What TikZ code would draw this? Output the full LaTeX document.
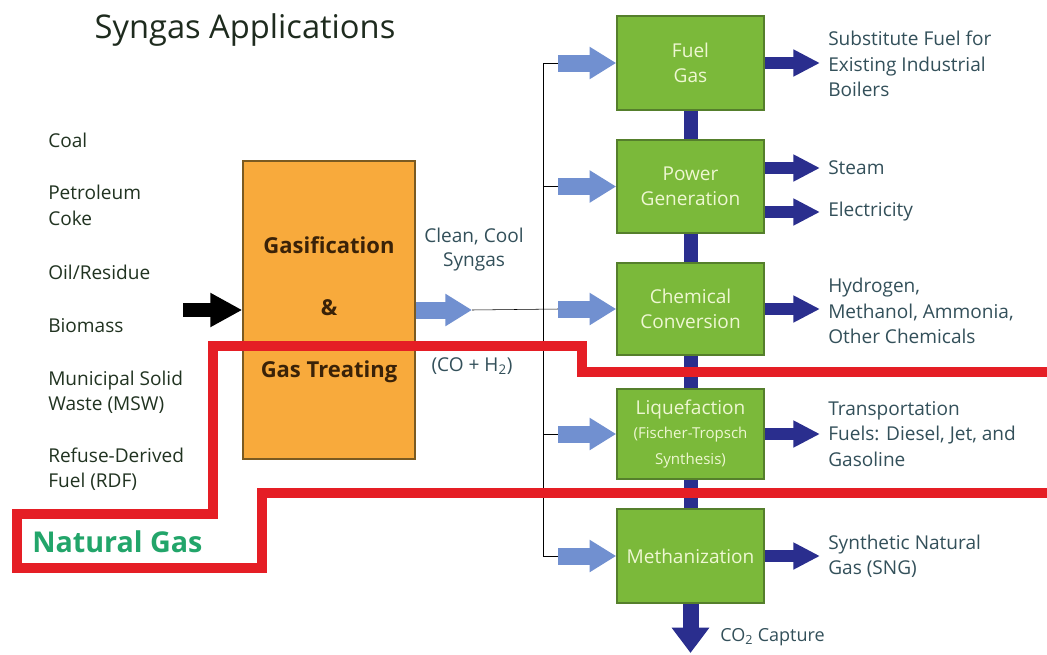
\documentclass[tikz,border=0pt]{standalone}
\usepackage{fontspec}
\setmainfont{Open Sans}
\usetikzlibrary{arrows.meta}
\definecolor{gfill}{HTML}{7BB93A}
\definecolor{gdraw}{HTML}{557F2C}
\definecolor{gtext}{HTML}{EEF7D2}
\definecolor{ofill}{HTML}{F8AA3C}
\definecolor{odraw}{HTML}{7A5A22}
\definecolor{otext}{HTML}{3A2208}
\definecolor{dblue}{HTML}{2A2E8E}
\definecolor{lblue}{HTML}{7190D0}
\definecolor{redline}{HTML}{E51E25}
\definecolor{ngas}{HTML}{22A56A}
\definecolor{ltext}{HTML}{213321}
\definecolor{rtext}{HTML}{33505A}
\definecolor{ttext}{HTML}{1E2B1E}
\definecolor{thin}{HTML}{4F6B3A}
\tikzset{
  lefttxt/.style={anchor=west, inner sep=0pt, align=left, text=ltext, font=\fontsize{14.3}{19}\selectfont},
  righttxt/.style={anchor=west, inner sep=0pt, align=left, text=rtext, font=\fontsize{14.3}{19}\selectfont},
  midtxt/.style={inner sep=0pt, align=center, text=rtext, font=\fontsize{14.3}{18}\selectfont},
  greenbox/.style={draw=gdraw, line width=1.2pt, fill=gfill, minimum width=110.25pt, text=gtext, align=center, inner sep=0pt, font=\fontsize{14.3}{19}\selectfont},
  orangebox/.style={draw=odraw, line width=1pt, fill=ofill, minimum width=129pt, minimum height=223.5pt, text=otext, align=center, font=\bfseries\fontsize{16.5}{46.5}\selectfont},
  blackarrow/.style={line width=10.5pt, black, -{Triangle[length=24pt,width=24pt]}},
  lbluearrow/.style={line width=12.75pt, lblue, -{Triangle[length=20pt,width=23pt]}},
  dbluearrow/.style={line width=9pt, dblue, shorten >=6pt, -{Triangle[length=20pt,width=19pt]}},
  dbluebar/.style={line width=10.5pt, dblue},
  thinline/.style={line width=1.1pt, thin},
  redbound/.style={line width=7.5pt, redline, miter limit=10},
}
\begin{document}
\begin{tikzpicture}[x=0.75pt,y=-0.75pt]
\useasboundingbox (0,0) rectangle (1047,654);
\fill[white] (0,0) rectangle (1047,654);

% title
\node[text=ttext, inner sep=0pt, font=\fontsize{24.5}{28}\selectfont] (title) at (245,30) {Syngas Applications};

% feedstocks
\node[lefttxt] (coal) at (48,140) {Coal};
\node[lefttxt] (petcoke) at (48,205.5) {Petroleum\\Coke};
\node[lefttxt] (oil) at (48,272) {Oil/Residue};
\node[lefttxt] (biomass) at (48,326) {Biomass};
\node[lefttxt] (msw) at (48,392) {Municipal Solid\\Waste (MSW)};
\node[lefttxt] (rdf) at (48,469) {Refuse-Derived\\Fuel (RDF)};

% gasification box
\node[orangebox] (gasif) at (329,310) {Gasification\\\&\\Gas Treating};
\coordinate (feedin) at (183,310);
\draw[blackarrow] (feedin) -- (gasif.west);

% syngas
\node[midtxt] (clean) at (474,250) {Clean, Cool\\Syngas};
\node[midtxt] (coh) at (472,366) {(CO + H\textsubscript{2})};
\coordinate (syntip) at (472,310);
\draw[lbluearrow] (gasif.east) -- (syntip);

% green boxes
\node[greenbox, minimum height=70.5pt] (fuel) at (690.5,63) {Fuel\\Gas};
\node[greenbox, minimum height=69.75pt] (power) at (690.5,186.5) {Power\\Generation};
\node[greenbox, minimum height=69pt] (chem) at (690.5,309) {Chemical\\Conversion};
\node[greenbox, minimum height=67.5pt] (liq) at (690.5,434) {Liquefaction\\[-1pt]{\fontsize{11.3}{17}\selectfont(Fischer-Tropsch}\\{\fontsize{11.3}{17}\selectfont Synthesis)}};
\node[greenbox, minimum height=70.5pt] (meth) at (690.5,556) {Methanization};

% distribution tree
\coordinate (trunktop) at (543,63);
\coordinate (trunkbot) at (543,556);
\coordinate (bfuel) at (558,63);
\coordinate (bpower) at (558,186.5);
\coordinate (bchem) at (558,309);
\coordinate (bliq) at (558,434);
\coordinate (bmeth) at (558,556);
\draw[thinline] (trunktop) -- (trunkbot);
\draw[thinline] (syntip) -- (bchem);
\draw[thinline] (trunktop) -- (bfuel);
\draw[thinline] (543,186.5) -- (bpower);
\draw[thinline] (543,434) -- (bliq);
\draw[thinline] (trunkbot) -- (bmeth);
\draw[lbluearrow] (bfuel) -- (fuel.west);
\draw[lbluearrow] (bpower) -- (power.west);
\draw[lbluearrow] (bchem) -- (chem.west);
\draw[lbluearrow] (bliq) -- (liq.west);
\draw[lbluearrow] (bmeth) -- (meth.west);

% vertical connectors
\draw[dbluebar] (fuel.south) -- (power.north);
\draw[dbluebar] (power.south) -- (chem.north);
\draw[dbluebar] (chem.south) -- (liq.north);
\draw[dbluebar] (liq.south) -- (meth.north);
\coordinate (co2tip) at (690.5,653);
\draw[line width=12pt, dblue, -{Triangle[length=19pt,width=27pt]}] (meth.south) -- (co2tip);
\node[righttxt, font=\fontsize{13.5}{16}\selectfont] (co2) at (720,637) {CO\textsubscript{2} Capture};

% outputs
\node[righttxt] (subst) at (828,64) {Substitute Fuel for\\Existing Industrial\\Boilers};
\node[righttxt] (steam) at (828,168) {Steam};
\node[righttxt] (elec) at (828,212) {Electricity};
\node[righttxt] (chems) at (828,311) {Hydrogen,\\Methanol, Ammonia,\\Other Chemicals};
\node[righttxt] (transp) at (828,434) {Transportation\\Fuels: Diesel, Jet, and\\Gasoline};
\node[righttxt] (sng) at (828,556) {Synthetic Natural\\Gas (SNG)};

\draw[dbluearrow] (fuel.east) -- (fuel.east -| subst.west);
\draw[dbluearrow] (power.east |- steam) -- (steam.west);
\draw[dbluearrow] (power.east |- elec) -- (elec.west);
\draw[dbluearrow] (chem.east) -- (chem.east -| chems.west);
\draw[dbluearrow] (liq.east) -- (transp.west);
\draw[dbluearrow] (meth.east) -- (sng.west);

% natural gas boundary
\node[text=ngas, inner sep=0pt, anchor=west, font=\bfseries\fontsize{21.5}{24}\selectfont] (natgas) at (32,542) {Natural Gas};
\draw[redbound] (1052,372) -- (582,372) -- (582,346) -- (213,346) -- (213,514) -- (17,514) -- (17,568) -- (262,568) -- (262,493) -- (1052,493);
\end{tikzpicture}
\end{document}
